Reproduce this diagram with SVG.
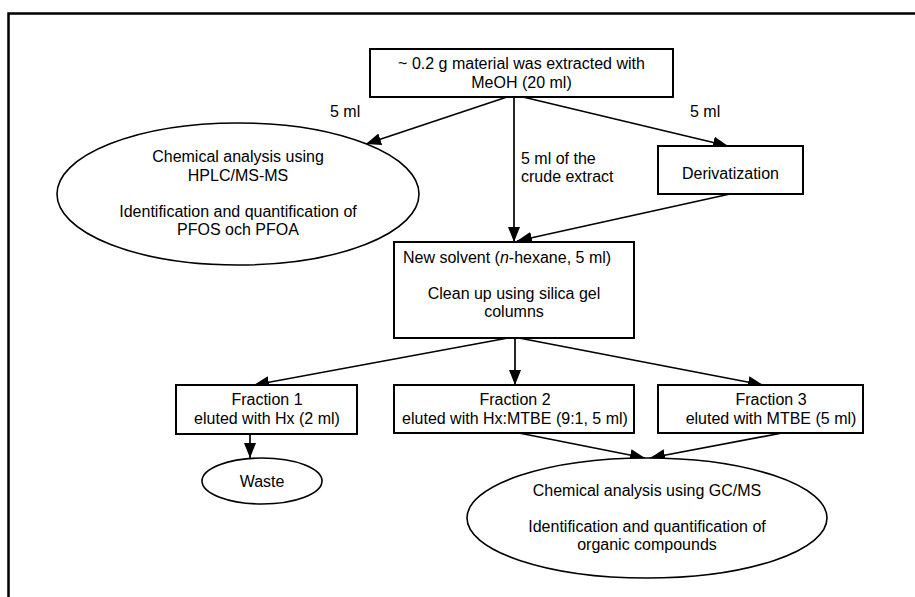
<svg xmlns="http://www.w3.org/2000/svg" width="915" height="597" viewBox="0 0 915 597">
<style>
text{font-family:"Liberation Sans",Arial,sans-serif;font-size:16px;fill:#000}
.c{text-anchor:middle}
.box{fill:#fff;stroke:#000;stroke-width:2}
.ell{fill:#fff;stroke:#000;stroke-width:1.6}
.ar{fill:none;stroke:#000;stroke-width:1.7;marker-end:url(#ah)}
</style>
<defs>
<marker id="ah" markerUnits="userSpaceOnUse" markerWidth="16" markerHeight="13" refX="15" refY="6.5" orient="auto">
<path d="M0,0.5 L15,6.5 L0,12.5 z" fill="#000"/>
</marker>
</defs>
<rect width="915" height="597" fill="#fff"/>
<path d="M8.5,597 V13.5 H915" fill="none" stroke="#000" stroke-width="2.5"/>
<g id="connectors">
<path class="ar" d="M507,97 L366,144"/>
<path class="ar" d="M523,97 L728,146"/>
<path class="ar" d="M514,97 L514,242"/>
<path class="ar" d="M730,194 L517,241"/>
<path class="ar" d="M508,338 L254,385"/>
<path class="ar" d="M515,338 L515,385"/>
<path class="ar" d="M519,338 L763,385"/>
<path class="ar" d="M250,434 L250,458"/>
<path class="ar" d="M519,433 L645,458"/>
<path class="ar" d="M782,433 L650,458"/>
<text x="330" y="117">5 ml</text>
<text x="690" y="117">5 ml</text>
<text x="521" y="164">5 ml of the</text>
<text x="521" y="182">crude extract</text>
</g>
<g id="extract">
<rect class="box" x="370" y="49" width="303" height="48"/>
<text class="c" x="521.5" y="69">~ 0.2 g material was extracted with</text>
<text class="c" x="521.5" y="88">MeOH (20 ml)</text>
</g>
<g id="hplc">
<ellipse class="ell" cx="238" cy="194" rx="181" ry="71"/>
<text class="c" x="238" y="162">Chemical analysis using</text>
<text class="c" x="238" y="181">HPLC/MS-MS</text>
<text class="c" x="238" y="217">Identification and quantification of</text>
<text class="c" x="238" y="235">PFOS och PFOA</text>
</g>
<g id="derivatization">
<rect class="box" x="658" y="146" width="145" height="48"/>
<text class="c" x="730.5" y="179">Derivatization</text>
</g>
<g id="solvent">
<rect class="box" x="394" y="242" width="240" height="96"/>
<text x="403" y="263">New solvent (<tspan font-style="italic">n</tspan>-hexane, 5 ml)</text>
<text class="c" x="514" y="299">Clean up using silica gel</text>
<text class="c" x="514" y="317">columns</text>
</g>
<g id="fraction1">
<rect class="box" x="176" y="385" width="181" height="49"/>
<text class="c" x="267" y="405">Fraction 1</text>
<text class="c" x="267" y="424">eluted with Hx (2 ml)</text>
</g>
<g id="fraction2">
<rect class="box" x="394" y="385" width="240" height="48"/>
<text class="c" x="515" y="405">Fraction 2</text>
<text class="c" x="515" y="424">eluted with Hx:MTBE (9:1, 5 ml)</text>
</g>
<g id="fraction3">
<rect class="box" x="658" y="385" width="205" height="48"/>
<text class="c" x="771" y="405">Fraction 3</text>
<text class="c" x="771" y="424">eluted with MTBE (5 ml)</text>
</g>
<g id="waste">
<ellipse class="ell" cx="262" cy="481" rx="60" ry="23"/>
<text class="c" x="262" y="487">Waste</text>
</g>
<g id="gcms">
<ellipse class="ell" cx="647" cy="518" rx="180" ry="60"/>
<text class="c" x="647" y="496">Chemical analysis using GC/MS</text>
<text class="c" x="647" y="532">Identification and quantification of</text>
<text class="c" x="647" y="550">organic compounds</text>
</g>
</svg>
